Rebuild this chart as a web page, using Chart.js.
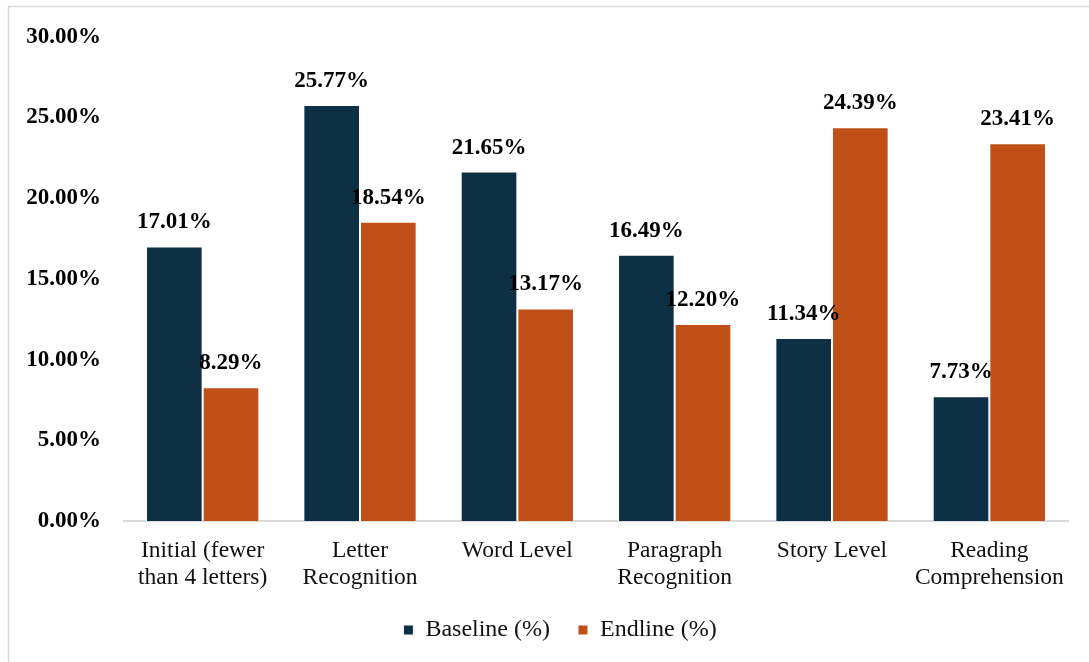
<!DOCTYPE html>
<html>
<head>
<meta charset="utf-8">
<script src="https://cdn.jsdelivr.net/npm/chart.js@4.4.1/dist/chart.umd.min.js"></script>
<style>
  html, body { margin: 0; padding: 0; background: #fff; }
  #wrap { position: absolute; left: 0; top: 0; width: 1089px; height: 662px; }
</style>
</head>
<body>
<div id="wrap"><canvas id="c" width="1089" height="662"></canvas></div>
<script>
const categories = [
  ["Initial (fewer", "than 4 letters)"],
  ["Letter", "Recognition"],
  ["Word Level"],
  ["Paragraph", "Recognition"],
  ["Story Level"],
  ["Reading", "Comprehension"]
];
const baselineValues = [17.01, 25.77, 21.65, 16.49, 11.34, 7.73];
const endlineValues = [8.29, 18.54, 13.17, 12.20, 24.39, 23.41];
const seriesNames = ["Baseline (%)", "Endline (%)"];
const yTicks = [0, 5, 10, 15, 20, 25, 30];

const FONT = "'Liberation Serif', 'Times New Roman', serif";
const NAVY = '#0d3044';
const ORANGE = '#c05018';

const frame = {
  id: 'frame',
  beforeDraw(chart) {
    const ctx = chart.ctx;
    ctx.save();
    ctx.fillStyle = '#fff';
    ctx.fillRect(0, 0, chart.width, chart.height);
    ctx.strokeStyle = '#d9d9d9';
    ctx.lineWidth = 1.5;
    ctx.beginPath();
    ctx.moveTo(8.5, 700);
    ctx.lineTo(8.5, 6.5);
    ctx.lineTo(1100, 6.5);
    ctx.stroke();
    ctx.restore();
  }
};

const shiftLegend = {
  id: 'shiftLegend',
  afterLayout(chart) {
    const lg = chart.legend;
    if (lg) { lg.left += 26; lg.right += 26; }
  }
};

const valueLabels = {
  id: 'valueLabels',
  afterDatasetsDraw(chart) {
    const ctx = chart.ctx;
    ctx.save();
    ctx.font = 'bold 23px ' + FONT;
    ctx.fillStyle = '#000';
    ctx.textAlign = 'center';
    ctx.textBaseline = 'alphabetic';
    chart.data.datasets.forEach((ds, di) => {
      const meta = chart.getDatasetMeta(di);
      meta.data.forEach((bar, i) => {
        ctx.fillText(ds.data[i].toFixed(2) + '%', bar.x, bar.y - 18);
      });
    });
    ctx.restore();
  }
};

new Chart(document.getElementById('c'), {
  type: 'bar',
  data: {
    labels: categories,
    datasets: [
      { label: seriesNames[0], data: baselineValues, backgroundColor: NAVY, borderColor: '#ffffff', borderWidth: 1 },
      { label: seriesNames[1], data: endlineValues, backgroundColor: ORANGE, borderColor: '#ffffff', borderWidth: 1 }
    ]
  },
  options: {
    responsive: false,
    animation: false,
    devicePixelRatio: 1,
    layout: { padding: { top: 20, right: 21, left: 0, bottom: 10 } },
    datasets: { bar: { categoryPercentage: 0.72, barPercentage: 1.0 } },
    plugins: {
      legend: {
        position: 'bottom',
        labels: {
          font: { family: FONT, size: 24 },
          color: '#111',
          boxWidth: 10,
          boxHeight: 10,
          padding: 28,
          useBorderRadius: false
        }
      },
      tooltip: { enabled: false }
    },
    scales: {
      x: {
        afterFit(scale) { scale.height = 69; },
        grid: { display: false, drawTicks: false },
        border: { display: true, color: '#d9d9d9', width: 2 },
        ticks: {
          font: { family: FONT, size: 23.5, lineHeight: 1.125 },
          color: '#111',
          padding: 17,
          maxRotation: 0,
          autoSkip: false
        }
      },
      y: {
        min: 0,
        max: 30,
        afterBuildTicks(scale) { scale.ticks = yTicks.map(v => ({ value: v })); },
        afterFit(scale) { scale.width = 124; },
        grid: { display: false, drawTicks: false },
        border: { display: false },
        ticks: {
          font: { family: FONT, size: 23, weight: 'bold' },
          color: '#000',
          padding: 23,
          callback: v => Number(v).toFixed(2) + '%'
        }
      }
    }
  },
  plugins: [frame, shiftLegend, valueLabels]
});
</script>
</body>
</html>
